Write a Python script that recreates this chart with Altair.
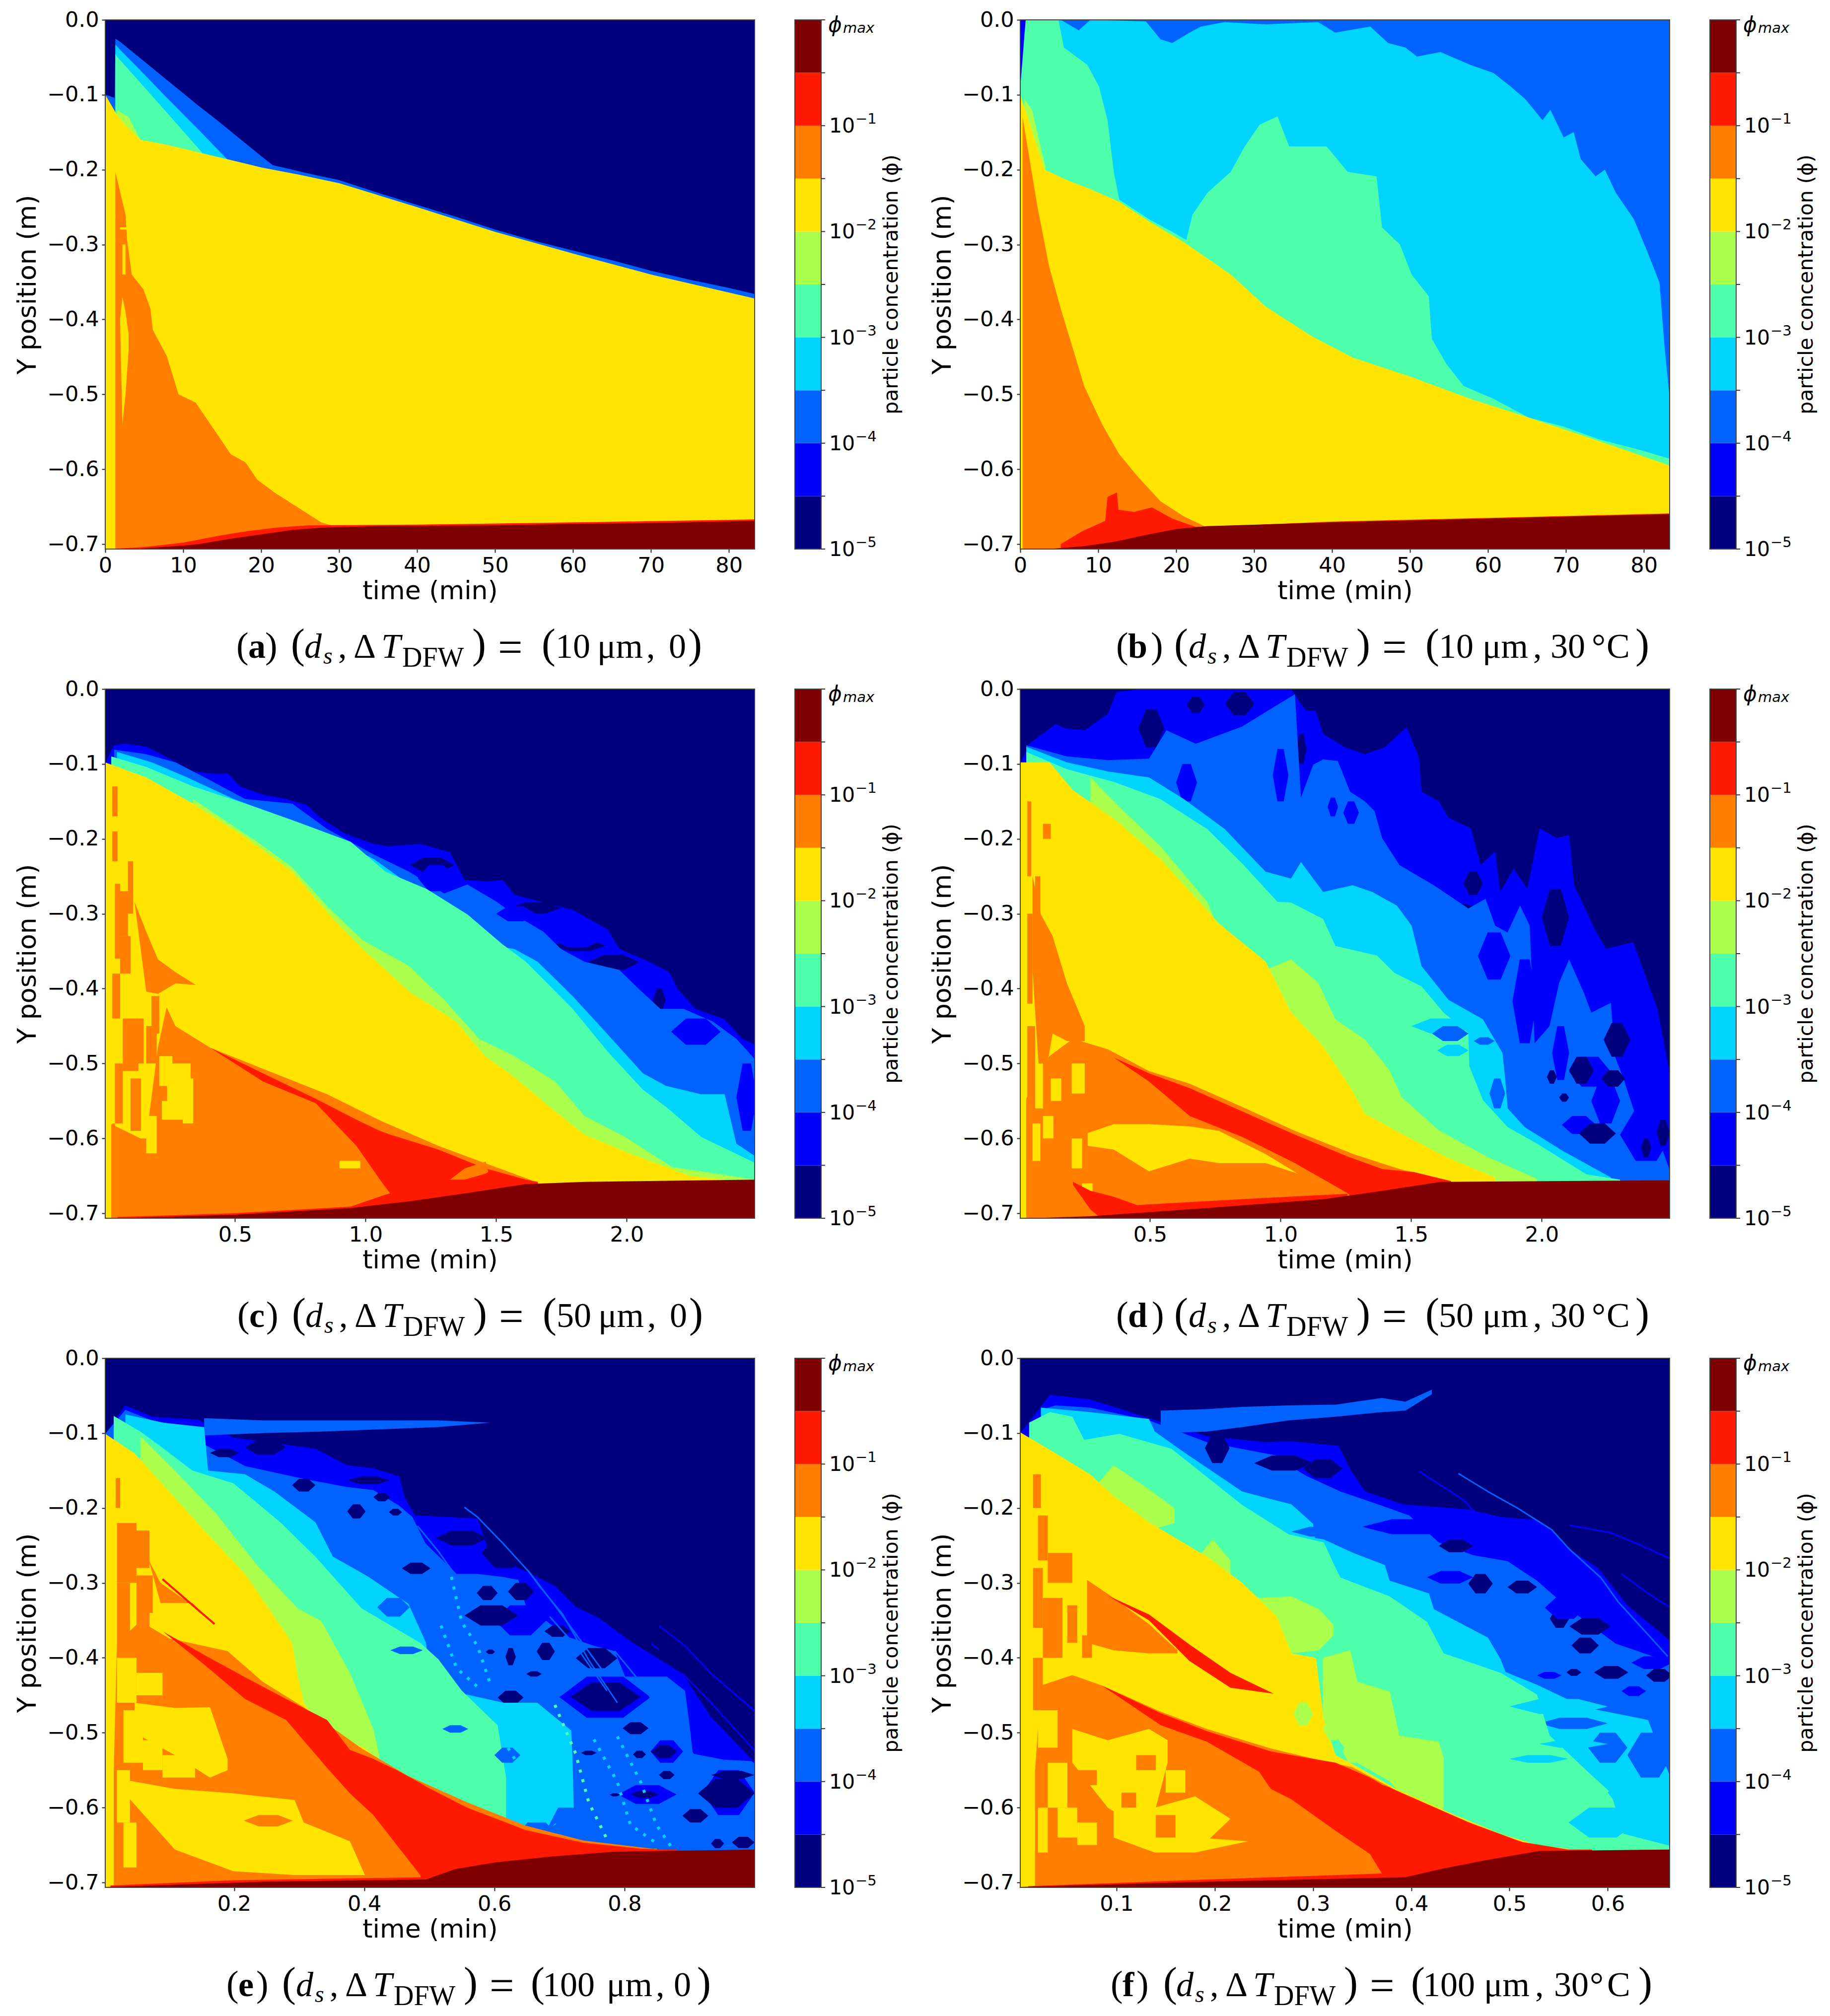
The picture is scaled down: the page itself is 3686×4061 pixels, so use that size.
import altair as alt
import pandas as pd

NAVY, BLUE, AZURE, CYAN, SPRING, LIME, YELLOW, ORANGE, RED, DARK = (
    "#00007f", "#0000ff", "#0063ff", "#00d4ff", "#4dffaa",
    "#aaff4d", "#ffe500", "#ff7e00", "#ff1a00", "#7f0000")
JET = [NAVY, BLUE, AZURE, CYAN, SPRING, LIME, YELLOW, ORANGE, RED, DARK]
LEVELS = list(range(10))
TICK_LEVELS = list(range(11))
EXPONENTS = [(0, "\u22125"), (2, "\u22124"), (4, "\u22123"), (6, "\u22122"), (8, "\u22121")]
Y_TICKS = [0.0, -0.1, -0.2, -0.3, -0.4, -0.5, -0.6, -0.7]
Y_DOMAIN = [-0.7066, 0.0]
FLOOR = -0.72

# ---------- panel a ----------
A_AZURE = [(0, -.1), (1.2, -.104), (1.3, -.025), (2, -.03), (4, -.047), (6, -.064), (8, -.081), (10, -.098), (12, -.115), (14, -.131), (16, -.148), (18, -.165), (20, -.182), (21.5, -.194), (24, -.2), (26, -.205), (30, -.214), (35, -.231), (40, -.247), (45, -.263), (50, -.28), (55, -.295), (60, -.308), (65, -.321), (70, -.335), (75, -.347), (80, -.358), (83.3, -.366)]
A_CYAN = [(1.3, -.033), (1.9, -.04), (4, -.062), (8, -.105), (12, -.147), (16, -.19)]
A_SPRING = [(1.3, -.045), (1.5, -.049), (4, -.078), (8, -.125), (12.4, -.177)]
A_LIME = [(1.5, -.12), (3, -.13), (4.5, -.16)]
A_YELLOW = [(0, -.1), (1.4, -.125), (2.5, -.14), (4.5, -.16), (8, -.167), (12, -.177), (16, -.187), (20, -.197), (25, -.207), (30, -.218), (35, -.234), (40, -.25), (50, -.283), (60, -.312), (70, -.34), (83.3, -.372)]
A_ORANGE = [(1.3, -.203), (2.6, -.26), (2.8, -.294), (3.4, -.34), (4.9, -.36), (5.8, -.386), (6.1, -.414), (7.9, -.449), (9.4, -.5), (11.6, -.511), (14.6, -.557), (16.1, -.58), (18, -.591), (19.5, -.614), (21.7, -.631), (24.7, -.651), (27.7, -.671), (30, -.678)]
A_YELLOW_STREAK = [(1.9, -.4, -.4), (2.2, -.37, -.54), (2.6, -.39, -.5), (3, -.42, -.44)]
A_BLOCKS_Y = [(1.9, 2.9, -.277, -.28), (2.2, 2.6, -.3, -.34), (11, 11.3, -.49, -.5)]
A_LENS_Y = [(14, 15.8, -.533, -.537)]
A_RED = [(1.5, -.706), (5, -.704), (10, -.698), (15, -.688), (18, -.683), (22, -.678), (26, -.675), (40, -.674), (60, -.671), (83.3, -.667)]
A_DARK = [(3, -.707), (10, -.702), (12, -.7), (16, -.693), (20, -.687), (24, -.681), (28, -.678), (35, -.676), (50, -.675), (60, -.673), (70, -.672), (83.3, -.669)]

# ---------- panel b ----------
B_BLUE = [(0, 0), (83.3, 0)]
B_AZURE = [(.3, -.1), (.5, -.02), (.8, 0), (83.3, 0)]
B_CYAN = [(.9, 0), (5.2, 0), (7.5, -.014), (9, 0), (16.1, -.002), (18, -.026), (19.5, -.031), (21.7, -.017), (23.2, -.009), (26.2, -.003), (31.5, -.006), (38.2, -.003), (40.4, -.017), (44.9, -.009), (47.2, -.031), (49.4, -.037), (50.9, -.049), (53.9, -.043), (57.7, -.06), (60.7, -.071), (62.9, -.089), (64.8, -.106), (67, -.134), (68, -.12), (69.7, -.157), (71, -.15), (71.9, -.186), (73.8, -.209), (75, -.2), (76.4, -.231), (78.7, -.266), (80.5, -.311), (82, -.351), (82.6, -.431), (83.3, -.506)]
B_SPRING = [(0, -.09), (.7, 0), (4.9, 0), (5.6, -.037), (8.6, -.06), (10.1, -.089), (11.2, -.134), (12, -.203), (12.7, -.24), (16.5, -.266), (19.5, -.283), (21.3, -.294), (22.1, -.26), (24, -.231), (27, -.203), (28.8, -.169), (30.7, -.14), (33, -.129), (34.5, -.169), (37.5, -.169), (39.3, -.169), (42, -.203), (45.7, -.209), (46.4, -.277), (48.7, -.3), (50.2, -.34), (52.4, -.369), (52.8, -.426), (54.7, -.46), (56.9, -.489), (60.7, -.506), (65.2, -.531), (69.7, -.543), (74.2, -.56), (79.4, -.574), (83.3, -.586)]
B_LIME = [(.5, -.105), (1.5, -.12), (3.2, -.195)]
B_YELLOW = [(0, -.1), (3.1, -.2), (6, -.214), (9, -.226), (12.7, -.243), (16.5, -.269), (21, -.297), (27, -.34), (31.5, -.383), (37.5, -.423), (42.7, -.451), (50.2, -.477), (57.7, -.506), (65.2, -.531), (72.7, -.557), (83.3, -.595)]
B_ORANGE = [(.3, -.13), (1.1, -.18), (2.2, -.249), (3.7, -.329), (5.2, -.386), (6.7, -.437), (8.2, -.489), (10.5, -.54), (12.7, -.58), (15, -.609), (18, -.643), (21, -.663), (23.6, -.676)]
B_RED = [(5.2, -.7), (7.9, -.683), (10.9, -.669), (11.2, -.637), (12.4, -.631), (12.6, -.654), (14.6, -.657), (16.9, -.651), (19.5, -.666), (22.5, -.677), (24, -.677), (40, -.67), (60, -.665), (83.3, -.659)]
B_DARK = [(3, -.707), (8, -.703), (12, -.697), (16, -.688), (20, -.68), (24, -.676), (40, -.671), (60, -.666), (83.3, -.66)]

# ---------- panel c ----------
C_BLUE = [(.003, -.098), (.037, -.075), (.082, -.073), (.16, -.077), (.25, -.093), (.339, -.11), (.417, -.113), (.473, -.113), (.518, -.13), (.607, -.141), (.697, -.147), (.775, -.155), (.831, -.173), (.921, -.193), (1.032, -.207), (1.088, -.21), (1.211, -.207), (1.323, -.218), (1.379, -.255), (1.47, -.257), (1.525, -.255), (1.57, -.275), (1.704, -.287), (1.793, -.295), (1.927, -.321), (1.972, -.347), (2.084, -.364), (2.162, -.378), (2.196, -.401), (2.263, -.427), (2.375, -.441), (2.442, -.467), (2.493, -.475)]
C_NAVY_LENS = [(1.17, 1.34, -.225, -.245), (1.55, 1.75, -.285, -.3), (1.72, 1.92, -.335, -.35), (1.85, 2.05, -.355, -.375), (2.1, 2.15, -.4, -.43)]
C_AZURE = [(.037, -.081), (.16, -.087), (.272, -.098), (.384, -.118), (.54, -.147), (.719, -.153), (.853, -.187), (1.032, -.221), (1.167, -.244), (1.301, -.273), (1.39, -.261), (1.502, -.284), (1.569, -.301), (1.681, -.324), (1.748, -.347), (1.838, -.364), (1.972, -.375), (2.039, -.398), (2.129, -.427), (2.218, -.427), (2.33, -.444), (2.42, -.467), (2.493, -.495)]
C_BLUE_LENS = [(2.17, 2.36, -.44, -.475), (2.42, 2.5, -.5, -.59), (1.72, 1.9, -.325, -.345), (1.2, 1.34, -.235, -.27), (1.5, 1.65, -.29, -.31)]
C_CYAN = [(.048, -.084), (.182, -.098), (.317, -.118), (.496, -.147), (.675, -.17), (.853, -.195), (1.032, -.227), (1.144, -.255), (1.301, -.284), (1.457, -.341), (1.569, -.347), (1.659, -.364), (1.793, -.41), (1.927, -.461), (2.062, -.513), (2.151, -.53), (2.285, -.541), (2.375, -.541), (2.42, -.607), (2.493, -.624)]
C_SPRING = [(.026, -.09), (.16, -.104), (.339, -.13), (.54, -.153), (.719, -.175), (.943, -.204), (1.077, -.244), (1.234, -.267), (1.39, -.301), (1.525, -.341), (1.614, -.364), (1.793, -.427), (1.927, -.484), (2.062, -.535), (2.151, -.558), (2.285, -.598), (2.493, -.633)]
C_LIME = [(.339, -.147), (.585, -.204), (.719, -.238), (.853, -.29), (.988, -.335), (1.167, -.37), (1.301, -.415), (1.435, -.467), (1.569, -.49), (1.726, -.524), (1.838, -.57), (1.994, -.598), (2.173, -.638), (2.493, -.655)]
C_YELLOW = [(.003, -.098), (.16, -.118), (.339, -.153), (.54, -.198), (.719, -.244), (.876, -.307), (.988, -.347), (1.167, -.404), (1.346, -.444), (1.457, -.49), (1.569, -.518), (1.726, -.564), (1.838, -.595), (2.017, -.621), (2.24, -.65), (2.375, -.655)]
C_ORANGE = [(.026, -.581), (.138, -.6), (.16, -.6), (.205, -.478), (.238, -.425), (.272, -.45), (.406, -.479), (.607, -.507), (.853, -.541), (1.055, -.576), (1.279, -.61), (1.457, -.633), (1.637, -.656)]
C_WEDGE = [(.115, -.284, -.284), (.16, -.324, -.404), (.205, -.361, -.407), (.272, -.378, -.393), (.35, -.395, -.395)]
C_SPECK_O = [(.03, .05, -.13, -.17), (.03, .05, -.19, -.23), (.04, .06, -.26, -.36), (.09, .11, -.23, -.3), (.05, .09, -.27, -.33), (.06, .1, -.33, -.38), (.03, .06, -.38, -.44), (.07, .13, -.44, -.51), (.12, .15, -.44, -.5), (.04, .07, -.5, -.58), (.1, .14, -.52, -.59), (.16, .2, -.45, -.5), (.18, .21, -.41, -.46), (.03, .04, -.58, -.7)]
C_SPECK_Y = [(.21, .26, -.49, -.53), (.24, .33, -.5, -.57), (.22, .3, -.55, -.575), (.16, .2, -.57, -.62), (.3, .34, -.52, -.58), (.9, .98, -.63, -.64)]
C_RED_MAIN = [(.406, -.479, -.479), (.607, -.513, -.524), (.809, -.547, -.553), (.965, -.575, -.61), (1.055, -.59, -.655), (1.095, -.595, -.674), (1.279, -.615, FLOOR), (1.457, -.64, FLOOR), (1.614, -.655, FLOOR), (1.66, -.658, FLOOR)]
C_RED = [(.05, -.705), (.496, -.7), (.943, -.691), (1.077, -.675), (1.1, -.673), (1.3, -.66)]
C_ORANGE_ISLE = [(1.323, -.655, -.655), (1.38, -.64, -.655), (1.46, -.631, -.647), (1.47, -.645, -.645)]
C_DARK = [(.003, -.707), (.496, -.702), (.943, -.693), (1.167, -.684), (1.39, -.673), (1.614, -.661), (1.838, -.658), (2.493, -.655)]

# ---------- panel d ----------
D_BLUE = [(.003, -.1), (.037, -.073), (.138, -.047), (.182, -.053), (.25, -.055), (.339, -.033), (.372, -.004), (.473, 0), (.563, 0), (.719, 0), (1.04, 0), (1.097, -.029), (1.134, -.029), (1.163, -.06), (1.247, -.078), (1.323, -.087), (1.398, -.078), (1.483, -.051), (1.53, -.092), (1.54, -.137), (1.606, -.15), (1.643, -.172), (1.728, -.186), (1.766, -.235), (1.822, -.217), (1.841, -.271), (1.893, -.24), (1.945, -.267), (1.992, -.186), (2.058, -.199), (2.105, -.195), (2.124, -.262), (2.209, -.325), (2.246, -.347), (2.35, -.338), (2.407, -.392), (2.444, -.428), (2.463, -.464), (2.5, -.531)]
D_NAVY_LENS = [(.455, .555, -.027, -.078), (.786, .9, -.004, -.035), (.64, .71, -.01, -.032), (.82, .88, -.107, -.141), (.99, 1.03, -.13, -.158), (1.53, 1.775, -.287, -.298), (1.7, 1.775, -.244, -.275), (2.0, 2.105, -.267, -.343), (1.888, 1.945, -.352, -.361), (1.06, 1.1, -.06, -.1)]
D_AZURE = [(.026, -.075), (.182, -.09), (.339, -.095), (.496, -.093), (.563, -.055), (.675, -.073), (.853, -.05), (.988, -.021), (1.055, -.007), (1.078, -.145), (1.125, -.101), (1.163, -.094), (1.219, -.096), (1.266, -.137), (1.323, -.15), (1.36, -.163), (1.389, -.199), (1.455, -.235), (1.587, -.262), (1.719, -.293), (1.785, -.28), (1.822, -.316), (1.869, -.325), (1.917, -.289), (1.954, -.316), (1.973, -.473), (2.03, -.45), (2.067, -.392), (2.105, -.361), (2.162, -.406), (2.19, -.432), (2.265, -.419), (2.28, -.49), (2.36, -.563), (2.454, -.607), (2.5, -.652)]
D_BLUE_LENS = [(1.756, 1.88, -.325, -.388), (1.888, 1.982, -.361, -.473), (2.04, 2.105, -.45, -.522), (2.105, 2.265, -.491, -.531), (2.19, 2.3, -.52, -.58), (2.3, 2.5, -.56, -.63), (2.32, 2.5, -.47, -.585), (2.077, 2.209, -.57, -.594), (.6, .68, -.1, -.15), (.97, 1.03, -.08, -.15), (1.18, 1.22, -.145, -.17), (1.24, 1.3, -.15, -.18)]
D_NAVY2 = [(2.105, 2.2, -.491, -.527), (2.228, 2.32, -.509, -.531), (2.143, 2.284, -.58, -.607), (2.237, 2.34, -.446, -.491), (2.02, 2.058, -.509, -.527), (2.067, 2.105, -.54, -.551), (2.38, 2.42, -.6, -.625), (2.44, 2.49, -.575, -.61)]
D_CYAN = [(.026, -.077), (.182, -.098), (.339, -.11), (.496, -.118), (.63, -.147), (.786, -.187), (.943, -.244), (1.04, -.253), (1.078, -.231), (1.163, -.271), (1.276, -.262), (1.351, -.271), (1.445, -.289), (1.502, -.316), (1.54, -.37), (1.643, -.415), (1.775, -.441), (1.85, -.486), (1.86, -.52), (1.87, -.56), (1.935, -.585), (2.077, -.616), (2.265, -.652)]
D_SPRING = [(.026, -.084), (.182, -.107), (.361, -.124), (.54, -.147), (.719, -.187), (.853, -.233), (.988, -.284), (1.04, -.285), (1.163, -.307), (1.21, -.343), (1.37, -.356), (1.436, -.379), (1.54, -.397), (1.624, -.432), (1.719, -.459), (1.723, -.504), (1.775, -.549), (1.87, -.585), (1.982, -.607), (2.171, -.648), (2.3, -.655)]
D_CYAN_BLOB = [(1.5, 1.75, -.44, -.46), (1.6, 1.72, -.475, -.49)]
D_AZURE_SPOT = [(1.58, 1.72, -.45, -.47), (1.74, 1.82, -.465, -.475), (1.8, 1.86, -.52, -.56)]
D_LIME = [(.272, -.118), (.384, -.158), (.54, -.21), (.719, -.284), (.786, -.341), (.943, -.375), (1.04, -.361), (1.144, -.392), (1.21, -.441), (1.323, -.468), (1.417, -.509), (1.464, -.545), (1.605, -.589), (1.794, -.625), (1.982, -.654)]
D_YELLOW = [(.003, -.098), (.115, -.098), (.205, -.135), (.361, -.173), (.54, -.227), (.764, -.313), (.943, -.364), (1.04, -.432), (1.163, -.477), (1.266, -.531), (1.323, -.567), (1.464, -.594), (1.634, -.625), (1.822, -.652)]
D_SPINE = [(.05, -.25, -.375), (.082, -.301, -.55), (.127, -.33, -.46), (.182, -.393, -.47), (.25, -.45, -.47)]
D_SPECK_O = [(.03, .045, -.15, -.25), (.06, .08, -.25, -.3), (.03, .05, -.3, -.42), (.03, .06, -.45, -.6), (.09, .12, -.18, -.2)]
D_ORANGE = [(.026, -.547), (.115, -.49), (.205, -.467), (.339, -.481), (.496, -.51), (.652, -.527), (.853, -.558), (1.055, -.59), (1.279, -.621), (1.457, -.641), (1.637, -.656)]
D_SPECK_Y = [(.06, .09, -.5, -.56), (.12, .16, -.52, -.55), (.2, .25, -.5, -.54), (.05, .08, -.58, -.63), (.2, .24, -.6, -.64), (.24, .28, -.66, -.68), (.09, .13, -.57, -.6)]
D_LENS_Y = [(.261, -.593, -.61), (.361, -.581, -.615), (.496, -.581, -.644), (.652, -.584, -.627), (.764, -.59, -.633), (.943, -.621, -.633), (1.065, -.647, -.647)]
D_RED_BAND = [(.361, -.492, -.492), (.496, -.513, -.524), (.652, -.533, -.57), (.853, -.564, -.598), (1.055, -.595, -.633), (1.256, -.624, -.673), (1.39, -.641, FLOOR), (1.511, -.645, FLOOR), (1.653, -.657, FLOOR)]
D_RED_TIP = [(.205, -.658, -.662), (.272, -.67, -.695), (.361, -.678, FLOOR), (.45, -.689, FLOOR), (.853, -.681, FLOOR), (1.256, -.674, FLOOR)]
D_DARK = [(.003, -.707), (.272, -.704), (.719, -.693), (1.167, -.681), (1.39, -.67), (1.614, -.658), (2.493, -.656)]

# ---------- panel e ----------
E_BLUE = [(.002, -.101), (.033, -.063), (.074, -.078), (.145, -.082), (.199, -.106), (.325, -.121), (.374, -.143), (.414, -.147), (.454, -.158), (.462, -.186), (.478, -.21), (.574, -.214), (.593, -.262), (.649, -.285), (.693, -.304), (.725, -.332), (.761, -.347), (.809, -.378), (.889, -.421), (.933, -.479), (1.0, -.54)]
E_TONGUE = [(.154, -.08, -.103), (.244, -.083, -.1), (.334, -.083, -.098), (.423, -.083, -.095), (.513, -.083, -.092), (.594, -.086, -.086)]
E_AZURE = [(.002, -.101), (.033, -.069), (.074, -.083), (.145, -.095), (.154, -.115), (.217, -.144), (.307, -.161), (.374, -.172), (.414, -.176), (.454, -.197), (.474, -.212), (.494, -.247), (.542, -.288), (.574, -.288), (.613, -.292), (.637, -.296), (.653, -.345), (.677, -.349), (.713, -.372), (.753, -.384), (.785, -.391), (.801, -.425), (.865, -.425), (.893, -.444), (.9, -.49), (.905, -.528), (.953, -.536), (1.0, -.538)]
E_NAVY_LENS = [(.374, .44, -.158, -.168), (.414, .44, -.18, -.191), (.438, .458, -.201, -.21), (.374, .402, -.195, -.214), (.458, .502, -.273, -.288), (.573, .605, -.304, -.323), (.554, .637, -.33, -.357), (.621, .661, -.3, -.323), (.617, .633, -.387, -.41), (.665, .693, -.38, -.403), (.587, .601, -.389, -.395), (.649, .673, -.418, -.425), (.677, .717, -.357, -.372), (.605, .645, -.444, -.462), (.717, .825, -.433, -.471), (.725, .789, -.387, -.414), (.797, .837, -.486, -.502), (.841, .881, -.517, -.534), (.701, .717, -.524, -.534), (.733, .757, -.524, -.53), (.813, .833, -.524, -.534), (.933, 1, -.551, -.562), (.913, 1, -.562, -.6), (.889, .929, -.602, -.62), (.853, .877, -.551, -.562), (.777, .793, -.581, -.585), (.809, .853, -.578, -.587), (.933, .953, -.642, -.654), (.965, 1, -.639, -.654), (.217, .28, -.109, -.129), (.163, .208, -.121, -.132), (.289, .325, -.161, -.178), (.51, .59, -.23, -.25), (.58, .65, -.24, -.28)]
E_BLUE_HALO = [(.7, .84, -.425, -.48), (.6, .68, -.33, -.37), (.92, 1, -.55, -.61), (.79, .88, -.57, -.595), (.84, .89, -.51, -.54)]
E_CYAN = [(.033, -.075), (.091, -.086), (.154, -.092), (.16, -.15), (.217, -.155), (.262, -.178), (.325, -.219), (.352, -.265), (.405, -.291), (.468, -.328), (.495, -.38), (.504, -.449), (.558, -.449), (.614, -.46), (.666, -.46), (.718, -.497), (.72, -.53), (.722, -.6)]
E_AZURE_BELOW = [(.68, .74, -.6, -.66), (.63, .7, -.62, -.66)]
E_SPRING = [(.015, -.077), (.056, -.098), (.083, -.115), (.136, -.15), (.199, -.167), (.271, -.219), (.325, -.265), (.396, -.334), (.486, -.38), (.514, -.402), (.55, -.444), (.605, -.49), (.618, -.56)]
E_AZURE_LENS = [(.42, .47, -.32, -.345), (.44, .49, -.385, -.395), (.52, .56, -.49, -.5), (.6, .64, -.52, -.54), (.54, .58, -.6, -.63)]
E_LIME = [(.056, -.104), (.109, -.15), (.172, -.207), (.235, -.276), (.298, -.334), (.334, -.351), (.378, -.42), (.414, -.495), (.423, -.53)]
E_YELLOW = [(.002, -.101), (.047, -.127), (.1, -.178), (.154, -.23), (.217, -.288), (.289, -.38), (.298, -.426), (.307, -.46), (.34, -.5), (.4, -.52), (.46, -.565), (.56, -.618), (.66, -.652), (.76, -.654), (.85, -.655)]
E_ORANGE = [(.015, -.552), (.02, -.38), (.056, -.351), (.1, -.374), (.19, -.391), (.244, -.432), (.307, -.466), (.396, -.521), (.468, -.558), (.558, -.593), (.648, -.624), (.737, -.644), (.845, -.655)]
E_WEDGE = [(.069, -.27, -.27), (.087, -.3, -.327), (.136, -.33, -.327), (.165, -.352, -.352)]
E_SPECK_O = [(.018, .025, -.16, -.2), (.02, .05, -.22, -.3), (.04, .07, -.23, -.28), (.02, .04, -.3, -.38), (.05, .075, -.29, -.34), (.05, .07, -.34, -.37)]
E_BLOB1 = [(.038, -.564, -.587), (.109, -.575, -.656), (.199, -.581, -.685), (.293, -.59, -.69), (.307, -.62, -.69), (.378, -.645, -.69), (.401, -.69, -.69)]
E_BLOB2 = [(.047, -.46, -.5), (.109, -.467, -.53), (.163, -.466, -.56), (.19, -.535, -.55)]
E_SPECK_Y = [(.02, .05, -.4, -.46), (.03, .06, -.47, -.54), (.02, .04, -.55, -.62), (.03, .05, -.62, -.68), (.09, .14, -.53, -.56), (.05, .09, -.42, -.45), (.06, .09, -.51, -.55)]
E_NOTCH = [(.215, .29, -.61, -.625)]
E_RED_MAIN = [(.091, -.365, -.365), (.154, -.396, -.409), (.217, -.426, -.455), (.28, -.455, -.483), (.343, -.483, -.547), (.378, -.523, -.581), (.414, -.535, -.61), (.45, -.55, -.65), (.486, -.567, -.69), (.495, -.572, FLOOR), (.558, -.6, FLOOR), (.648, -.63, FLOOR), (.737, -.647, FLOOR), (.827, -.655, FLOOR), (.88, -.656, FLOOR)]
E_RED = [(.01, -.704), (.2, -.697), (.49, -.693), (.52, -.68)]
E_RED_LINE = [(.09, -.295), (.15, -.34), (.17, -.355)]
E_DARK = [(.002, -.706), (.244, -.699), (.495, -.696), (.54, -.682), (.603, -.673), (.692, -.665), (.782, -.659), (1.0, -.656)]
E_TRAIL1 = [(.554, -.199), (.574, -.212), (.613, -.247), (.653, -.285), (.693, -.33), (.725, -.368), (.773, -.425)]
E_TRAIL2 = [(.853, -.357), (.893, -.384), (.933, -.421), (1.0, -.471)]
E_TRAIL3 = [(.841, -.381), (.853, -.389)]
E_TRAIL4 = [(.785, -.391), (.825, -.433), (.865, -.486), (.909, -.532)]
E_TRAIL5 = [(.889, -.421), (.933, -.46), (1.0, -.524)]
E_TRAIL6 = [(.925, -.49), (1.0, -.54)]
E_TRAIL7 = [(.482, -.224), (.514, -.258), (.542, -.292)]
E_TRAIL8 = [(.685, -.345), (.725, -.384), (.773, -.444)]
E_TRAIL9 = [(.653, -.285), (.669, -.304), (.705, -.342), (.745, -.403), (.789, -.46)]
E_DOTS1 = [(.534, -.292), (.55, -.353), (.574, -.384), (.593, -.433)]
E_DOTS2 = [(.518, -.357), (.542, -.414), (.581, -.444)]
E_DOTS3 = [(.693, -.463), (.725, -.528), (.745, -.593), (.773, -.642)]
E_DOTS4 = [(.753, -.509), (.789, -.566), (.809, -.623), (.853, -.65)]
E_DOTS5 = [(.789, -.505), (.825, -.566), (.849, -.623), (.873, -.654)]
E_DOTS6 = [(.613, -.509), (.653, -.566), (.693, -.623)]

# ---------- panel f ----------
F_BLUE = [(.002, -.1), (.017, -.075), (.032, -.049), (.073, -.055), (.133, -.08), (.192, -.104), (.251, -.112), (.278, -.111), (.326, -.117), (.338, -.149), (.353, -.178), (.391, -.195), (.458, -.202), (.491, -.212), (.528, -.216), (.543, -.229), (.561, -.255), (.59, -.28), (.62, -.33), (.666, -.38)]
F_TONGUE = [(.145, -.07, -.1), (.192, -.068, -.098), (.228, -.065, -.092), (.275, -.063, -.083), (.323, -.062, -.078), (.37, -.053, -.072), (.394, -.058, -.07), (.421, -.042, -.048)]
F_AZURE = [(.023, -.069), (.038, -.063), (.073, -.066), (.133, -.083), (.192, -.112), (.263, -.13), (.278, -.145), (.293, -.157), (.328, -.178), (.366, -.195), (.398, -.21), (.428, -.246), (.463, -.263), (.498, -.271), (.528, -.297), (.561, -.335), (.608, -.381), (.666, -.407)]
F_NAVY_LENS = [(.19, .215, -.1, -.14), (.24, .3, -.13, -.15), (.29, .33, -.135, -.16), (.358, .378, -.223, -.229), (.428, .463, -.242, -.259), (.458, .483, -.288, -.314), (.498, .528, -.297, -.314), (.563, .591, -.373, -.394), (.541, .561, -.335, -.36), (.561, .603, -.347, -.369), (.558, .573, -.415, -.424), (.586, .621, -.411, -.428), (.639, .666, -.415, -.432)]
F_BLUE_LENS = [(.614, .639, -.438, -.451), (.528, .553, -.419, -.428), (.416, .463, -.284, -.301), (.536, .578, -.318, -.348), (.624, .666, -.398, -.415), (.35, .45, -.215, -.235)]
F_CYAN = [(.023, -.066), (.073, -.072), (.133, -.081), (.139, -.098), (.168, -.125), (.228, -.178), (.263, -.19), (.278, -.195), (.3, -.221), (.302, -.24), (.311, -.242), (.341, -.26), (.373, -.276), (.378, -.297), (.418, -.314), (.423, -.335), (.478, -.373), (.491, -.402), (.496, -.419), (.528, -.436), (.576, -.466), (.641, -.483), (.666, -.567)]
F_AZURE_STRIP = [(.278, .34, -.225, -.238), (.62, .666, -.5, -.56), (.58, .62, -.5, -.54), (.53, .6, -.48, -.495)]
F_SPRING = [(.011, -.086), (.032, -.072), (.055, -.078), (.067, -.109), (.103, -.101), (.156, -.121), (.228, -.196), (.275, -.235), (.311, -.246), (.323, -.28), (.328, -.293), (.378, -.318), (.416, -.352), (.433, -.394), (.491, -.42), (.528, -.449), (.541, -.504), (.578, -.55), (.603, -.58), (.616, -.635), (.666, -.652)]
F_LIME1 = [(.079, -.17, -.19), (.097, -.143, -.22), (.133, -.175, -.23), (.159, -.2, -.22)]
F_LIME2 = [(.18, -.27, -.27), (.198, -.242, -.3), (.216, -.27, -.31)]
F_LIME3 = [(.228, -.31, -.34), (.245, -.32, -.38), (.278, -.318, -.394), (.306, -.335, -.39), (.321, -.356, -.37)]
F_LIME4 = [(.31, -.4, -.483), (.338, -.39, -.53), (.345, -.432, -.54), (.378, -.445, -.565), (.388, -.504, -.58), (.428, -.512, -.61), (.433, -.534, -.6)]
F_CYAN_LENS = [(.5, .6, -.455, -.475), (.53, .6, -.51, -.52), (.5, .56, -.53, -.54), (.6, .64, -.56, -.6), (.56, .63, -.6, -.64)]
F_YELLOW = [(.002, -.099), (.038, -.127), (.073, -.155), (.097, -.184), (.133, -.219), (.192, -.265), (.228, -.3), (.263, -.345), (.278, -.394), (.303, -.4), (.311, -.483), (.323, -.53), (.346, -.546), (.386, -.576), (.441, -.608), (.491, -.635), (.528, -.65), (.56, -.655)]
F_YELLOW_SPOT = [(.33, .35, -.51, -.54), (.28, .3, -.46, -.49), (.31, .33, -.48, -.51)]
F_SPECK_O = [(.015, .023, -.155, -.2), (.02, .03, -.21, -.27), (.015, .025, -.28, -.36), (.03, .055, -.26, -.3), (.025, .045, -.32, -.4), (.05, .06, -.33, -.38), (.065, .075, -.37, -.4), (.015, .025, -.4, -.47)]
F_WEDGE = [(.07, -.296, -.38), (.097, -.32, -.39), (.133, -.355, -.394), (.162, -.39, -.394)]
F_ORANGE = [(.017, -.552), (.023, -.437), (.055, -.423), (.085, -.437), (.145, -.472), (.192, -.495), (.257, -.521), (.311, -.538), (.34, -.546), (.386, -.578), (.441, -.61), (.491, -.637), (.528, -.652), (.548, -.655)]
F_BLOB1 = [(.055, -.495, -.54), (.091, -.51, -.6), (.133, -.495, -.635), (.152, -.51, -.54)]
F_BLOB2 = [(.097, -.6, -.64), (.139, -.6, -.66), (.18, -.585, -.66), (.216, -.615, -.615)]
F_BLOB3 = [(.18, -.64, -.66), (.234, -.645, -.645)]
F_SPECK_Y = [(.02, .04, -.47, -.52), (.03, .05, -.54, -.6), (.04, .06, -.6, -.64), (.1, .12, -.52, -.54), (.15, .17, -.55, -.58), (.02, .03, -.6, -.66), (.06, .08, -.62, -.65), (.16, .19, -.6, -.62)]
F_SPECK_O2 = [(.105, .12, -.58, -.6), (.14, .16, -.61, -.64), (.12, .14, -.53, -.55), (.06, .08, -.55, -.57)]
F_RED_STREAK = [(.091, -.317, -.317), (.133, -.342, -.35), (.174, -.382, -.404), (.216, -.42, -.44), (.26, -.448, -.448)]
F_RED_MAIN = [(.085, -.437, -.437), (.145, -.474, -.49), (.192, -.498, -.512), (.245, -.52, -.552), (.257, -.525, -.575), (.278, -.53, -.589), (.323, -.54, -.631), (.358, -.56, -.662), (.371, -.57, -.69), (.376, -.572, FLOOR), (.4, -.586, FLOOR), (.459, -.62, FLOOR), (.513, -.646, FLOOR), (.56, -.656, FLOOR), (.584, -.656, FLOOR)]
F_RED = [(.01, -.705), (.192, -.696), (.37, -.688), (.4, -.68)]
F_DARK = [(.002, -.706), (.192, -.699), (.394, -.693), (.43, -.682), (.477, -.67), (.53, -.658), (.663, -.656)]
F_TRAIL1 = [(.408, -.151), (.453, -.189), (.468, -.21), (.491, -.225), (.508, -.263)]
F_TRAIL2 = [(.448, -.154), (.478, -.178), (.508, -.2), (.543, -.229), (.561, -.255), (.593, -.293), (.611, -.326), (.641, -.369), (.661, -.398)]
F_TRAIL3 = [(.561, -.223), (.603, -.233), (.634, -.25), (.666, -.269)]
F_TRAIL4 = [(.614, -.288), (.641, -.314), (.666, -.335)]


def curve(color, pts):
    return ("area", color, [(t, y, FLOOR) for t, y in pts])

def patch(color, rows):
    return ("area", color, rows)

def lens(color, rows):
    return ("lens", color, rows)

def blocks(color, rows):
    return ("blocks", color, rows)

def trail(color, pts, width=3, dash=None):
    return ("line", color, pts, width, dash)


DOTS = [6, 14]
PANEL_LAYERS = {
    "a": [curve(AZURE, A_AZURE), curve(CYAN, A_CYAN), curve(SPRING, A_SPRING), curve(LIME, A_LIME), curve(YELLOW, A_YELLOW),
          curve(ORANGE, A_ORANGE), patch(YELLOW, A_YELLOW_STREAK), blocks(YELLOW, A_BLOCKS_Y), lens(YELLOW, A_LENS_Y), curve(RED, A_RED), curve(DARK, A_DARK)],
    "b": [curve(BLUE, B_BLUE), curve(AZURE, B_AZURE), curve(CYAN, B_CYAN), curve(SPRING, B_SPRING), curve(LIME, B_LIME), curve(YELLOW, B_YELLOW),
          curve(ORANGE, B_ORANGE), curve(RED, B_RED), curve(DARK, B_DARK)],
    "c": [curve(BLUE, C_BLUE), lens(NAVY, C_NAVY_LENS), curve(AZURE, C_AZURE), lens(BLUE, C_BLUE_LENS), curve(CYAN, C_CYAN), curve(SPRING, C_SPRING), curve(LIME, C_LIME),
          curve(YELLOW, C_YELLOW), patch(ORANGE, C_WEDGE), blocks(ORANGE, C_SPECK_O), curve(ORANGE, C_ORANGE), blocks(YELLOW, C_SPECK_Y),
          patch(RED, C_RED_MAIN), curve(RED, C_RED), patch(ORANGE, C_ORANGE_ISLE), curve(DARK, C_DARK)],
    "d": [curve(BLUE, D_BLUE), lens(NAVY, D_NAVY_LENS), curve(AZURE, D_AZURE), lens(BLUE, D_BLUE_LENS), lens(NAVY, D_NAVY2), curve(CYAN, D_CYAN), curve(SPRING, D_SPRING),
          lens(CYAN, D_CYAN_BLOB), lens(AZURE, D_AZURE_SPOT), curve(LIME, D_LIME), curve(YELLOW, D_YELLOW), patch(ORANGE, D_SPINE), blocks(ORANGE, D_SPECK_O), curve(ORANGE, D_ORANGE), blocks(YELLOW, D_SPECK_Y),
          patch(YELLOW, D_LENS_Y), patch(RED, D_RED_BAND), patch(RED, D_RED_TIP), curve(DARK, D_DARK)],
    "e": [curve(BLUE, E_BLUE), patch(AZURE, E_TONGUE), curve(AZURE, E_AZURE), lens(BLUE, E_BLUE_HALO), lens(NAVY, E_NAVY_LENS),
          trail(AZURE, E_TRAIL1), trail(BLUE, E_TRAIL2), trail(BLUE, E_TRAIL3), trail(AZURE, E_TRAIL4), trail(BLUE, E_TRAIL5), trail(BLUE, E_TRAIL6), trail(AZURE, E_TRAIL7), trail(AZURE, E_TRAIL8), trail(AZURE, E_TRAIL9),
          curve(CYAN, E_CYAN), lens(AZURE, E_AZURE_BELOW), curve(SPRING, E_SPRING), lens(AZURE, E_AZURE_LENS), curve(LIME, E_LIME), curve(YELLOW, E_YELLOW),
          trail(CYAN, E_DOTS1, 6, DOTS), trail(CYAN, E_DOTS2, 6, DOTS), trail(SPRING, E_DOTS3, 6, DOTS), trail(CYAN, E_DOTS4, 6, DOTS), trail(CYAN, E_DOTS5, 6, DOTS), trail(CYAN, E_DOTS6, 6, DOTS),
          blocks(ORANGE, E_SPECK_O), patch(ORANGE, E_WEDGE), curve(ORANGE, E_ORANGE), patch(YELLOW, E_BLOB1), patch(YELLOW, E_BLOB2), blocks(YELLOW, E_SPECK_Y), lens(ORANGE, E_NOTCH),
          patch(RED, E_RED_MAIN), curve(RED, E_RED), trail(RED, E_RED_LINE, 4), curve(DARK, E_DARK)],
    "f": [curve(BLUE, F_BLUE), patch(AZURE, F_TONGUE), curve(AZURE, F_AZURE), lens(NAVY, F_NAVY_LENS), lens(BLUE, F_BLUE_LENS), trail(BLUE, F_TRAIL1), trail(AZURE, F_TRAIL2), trail(BLUE, F_TRAIL3), trail(BLUE, F_TRAIL4),
          curve(CYAN, F_CYAN), lens(AZURE, F_AZURE_STRIP), curve(SPRING, F_SPRING), lens(CYAN, F_CYAN_LENS), patch(LIME, F_LIME1), patch(LIME, F_LIME2), patch(LIME, F_LIME3), patch(LIME, F_LIME4), curve(YELLOW, F_YELLOW), lens(LIME, F_YELLOW_SPOT),
          blocks(ORANGE, F_SPECK_O), patch(ORANGE, F_WEDGE), patch(RED, F_RED_STREAK), curve(ORANGE, F_ORANGE), patch(YELLOW, F_BLOB1), patch(YELLOW, F_BLOB2), patch(YELLOW, F_BLOB3), blocks(YELLOW, F_SPECK_Y), blocks(ORANGE, F_SPECK_O2),
          patch(RED, F_RED_MAIN), curve(RED, F_RED), curve(DARK, F_DARK)],
}

PANEL_X = {
    "a": ([0, 83.3], [0, 10, 20, 30, 40, 50, 60, 70, 80], "d"),
    "b": ([0, 83.3], [0, 10, 20, 30, 40, 50, 60, 70, 80], "d"),
    "c": ([.003, 2.49], [.5, 1.0, 1.5, 2.0], ".1f"),
    "d": ([.003, 2.49], [.5, 1.0, 1.5, 2.0], ".1f"),
    "e": ([.002, 1.0], [.2, .4, .6, .8], ".1f"),
    "f": ([.002, .663], [.1, .2, .3, .4, .5, .6], ".1f"),
}

CAPTIONS = {
    "a": dict(start=264, letter=24, close=58, open2=110, s=175, open3=615, num=643, numtxt="10", um=727, comma=826, tail=[(871, "0")], end=910),
    "b": dict(start=193, letter=24, close=70, open2=117, s=184, open3=623, num=650, numtxt="10", um=738, comma=840, tail=[(875, "30"), (958, "\u00b0"), (988, "C")], end=1046),
    "c": dict(start=266, letter=24, close=58, open2=110, s=175, open3=615, num=643, numtxt="50", um=727, comma=826, tail=[(871, "0")], end=910),
    "d": dict(start=193, letter=24, close=72, open2=117, s=184, open3=623, num=650, numtxt="50", um=738, comma=840, tail=[(875, "30"), (958, "\u00b0"), (988, "C")], end=1046),
    "e": dict(start=244, letter=24, close=60, open2=112, s=178, open3=613, num=637, numtxt="100", um=766, comma=865, tail=[(901, "0")], end=948),
    "f": dict(start=182, letter=24, close=52, open2=106, s=170, open3=605, num=629, numtxt="100", um=752, comma=855, tail=[(893, "30"), (965, "\u00b0"), (1000, "C")], end=1063),
}

W, H, CB_H = 1308, 1066, 1066
SERIF = "Liberation Serif"
SANS = "DejaVu Sans"


def text_at(txt, x, y, size, font=SANS, style="normal", weight="normal", align="left", baseline="alphabetic", angle=0):
    return alt.Chart(pd.DataFrame({"txt": [txt]})).mark_text(
        font=font, fontSize=size, fontStyle=style, fontWeight=weight, align=align, baseline=baseline, angle=angle, color="black"
    ).encode(text="txt:N", x=alt.value(x), y=alt.value(y))


def caption_layers(key):
    c = CAPTIONS[key]
    st = c["start"]
    yb = H + 219
    s = c["s"]
    out = [
        text_at("(", st, yb, 74, SERIF),
        text_at(key, st + c["letter"], yb, 70, SERIF, weight="bold"),
        text_at(")", st + c["close"], yb, 74, SERIF),
        text_at("(", st + c["open2"], yb, 84, SERIF),
        text_at("d", st + s - 38, yb, 70, SERIF, style="italic"),
        text_at("s", st + s, yb + 12, 48, SERIF, style="italic"),
        text_at(",", st + s + 30, yb, 70, SERIF),
        text_at("\u0394", st + s + 61, yb, 70, SERIF),
        text_at("T", st + s + 117, yb, 70, SERIF, style="italic"),
        text_at("DFW", st + s + 159, yb + 18, 56, SERIF),
        text_at(")", st + s + 300, yb, 84, SERIF),
        text_at("=", st + s + 352, yb + 8, 88, SERIF),
        text_at("(", st + c["open3"], yb, 84, SERIF),
        text_at(c["numtxt"], st + c["num"], yb, 70, SERIF),
        text_at("\u03bcm", st + c["um"], yb, 70, SERIF),
        text_at(",", st + c["comma"], yb, 70, SERIF),
        text_at(")", st + c["end"], yb, 84, SERIF),
    ]
    for x, txt in c["tail"]:
        out.append(text_at(txt, st + x, yb, 70, SERIF))
    return out


def panel(key):
    dom, ticks, fmt = PANEL_X[key]
    xscale = alt.Scale(domain=dom, nice=False, zero=False)
    yscale = alt.Scale(domain=Y_DOMAIN, nice=False, zero=False)
    xaxis = alt.Axis(values=ticks, format=fmt, title="time (min)", grid=False, domain=False, tickSize=7, tickWidth=2, tickColor="#222",
                     labelFont=SANS, labelFontSize=43, labelColor="black", labelPadding=5, labelOverlap=False, labelFlush=False,
                     titleFont=SANS, titleFontSize=52, titleFontWeight="normal", titleColor="black", titlePadding=4)
    yaxis = alt.Axis(values=Y_TICKS, format=".1f", title="Y position (m)", grid=False, domain=False, tickSize=7, tickWidth=2, tickColor="#222",
                     labelFont=SANS, labelFontSize=43, labelColor="black", labelPadding=6, labelOverlap=False, labelFlush=False,
                     titleFont=SANS, titleFontSize=52, titleFontWeight="normal", titleColor="black", titlePadding=12)
    X = alt.X("t:Q", scale=xscale, axis=xaxis)
    Y = alt.Y("y:Q", scale=yscale, axis=yaxis)

    bg = pd.DataFrame({"t": dom, "y": [0.0, 0.0], "y2": [FLOOR, FLOOR]})
    layers = [alt.Chart(bg).mark_area(color=NAVY, clip=True, orient="vertical").encode(x=X, y=Y, y2="y2:Q")]

    for item in PANEL_LAYERS[key]:
        kind, color = item[0], item[1]
        if kind == "area":
            df = pd.DataFrame(item[2], columns=["t", "y", "y2"])
            layers.append(alt.Chart(df).mark_area(color=color, clip=True, orient="vertical").encode(x=X, y=Y, y2="y2:Q"))
        elif kind == "lens":
            rows = []
            for i, (t0, t1, y0, y1) in enumerate(item[2]):
                m = (y0 + y1) / 2
                rows += [(i, t0, m, m), (i, t0 + (t1 - t0) * .3, y0, y1), (i, t0 + (t1 - t0) * .7, y0, y1), (i, t1, m, m)]
            df = pd.DataFrame(rows, columns=["id", "t", "y", "y2"])
            layers.append(alt.Chart(df).mark_area(color=color, clip=True, orient="vertical").encode(x=X, y=Y, y2="y2:Q", detail="id:N"))
        elif kind == "blocks":
            df = pd.DataFrame(item[2], columns=["t", "t2", "y", "y2"])
            layers.append(alt.Chart(df).mark_rect(color=color, clip=True).encode(x=X, x2="t2:Q", y=Y, y2="y2:Q"))
        elif kind == "line":
            df = pd.DataFrame(item[2], columns=["t", "y"])
            props = dict(color=color, clip=True, strokeWidth=item[3])
            if item[4]:
                props["strokeDash"] = item[4]
            layers.append(alt.Chart(df).mark_line(**props).encode(x=X, y=Y))

    frame = alt.Chart(pd.DataFrame({"f": [0]})).mark_rect(filled=False, stroke="#444", strokeWidth=2).encode(
        x=alt.value(0), x2=alt.value(W), y=alt.value(0), y2=alt.value(H))
    layers.append(frame)
    layers += caption_layers(key)
    return alt.layer(*layers).properties(width=W, height=H)


def colorbar(cell_w):
    y = alt.Y("lo:Q", scale=alt.Scale(domain=[0, 10], nice=False, zero=False), axis=None)
    color_scale = alt.Scale(domain=[str(v) for v in LEVELS], range=JET)
    bands = pd.DataFrame({"lo": LEVELS, "hi": [v + 1 for v in LEVELS], "band": [str(v) for v in LEVELS]})
    rect = alt.Chart(bands).mark_rect().encode(
        x=alt.value(81), x2=alt.value(134), y=y, y2="hi:Q", color=alt.Color("band:N", scale=color_scale, legend=None))
    outline = alt.Chart(pd.DataFrame({"f": [0]})).mark_rect(filled=False, stroke="#444", strokeWidth=2).encode(
        x=alt.value(81), x2=alt.value(134), y=alt.value(0), y2=alt.value(CB_H))
    ticks = alt.Chart(pd.DataFrame({"lo": TICK_LEVELS})).mark_rule(color="#333", strokeWidth=2).encode(
        x=alt.value(134), x2=alt.value(142), y=y)
    exp = pd.DataFrame({"lo": [e[0] for e in EXPONENTS], "base": ["10"] * 5, "sup": [e[1] for e in EXPONENTS]})
    base = alt.Chart(exp).mark_text(font=SANS, fontSize=41, align="left", baseline="middle", color="black", dy=2).encode(
        x=alt.value(150), y=y, text="base:N")
    sup = alt.Chart(exp).mark_text(font=SANS, fontSize=29, align="left", baseline="middle", color="black", dy=-13).encode(
        x=alt.value(203), y=y, text="sup:N")
    return alt.layer(
        rect, outline, ticks, base, sup,
        text_at("\u03d5", 148, 24, 42, style="italic"),
        text_at("max", 178, 26, 29, style="italic"),
        text_at("particle concentration (\u03d5)", 288, 533, 41, angle=270, align="center"),
    ).properties(width=cell_w, height=CB_H)


cells = []
for left, right in [("a", "b"), ("c", "d"), ("e", "f")]:
    cells += [panel(left), colorbar(535), panel(right), colorbar(300)]

chart = alt.concat(*cells, columns=4, spacing={"row": 282, "column": 0}, bounds="flush", align="each").properties(
    padding={"left": 21, "top": 11, "right": 0, "bottom": 0}, background="white"
).configure_view(stroke=None)

chart.save("out.html", embed_options={"renderer": "svg", "actions": False})
